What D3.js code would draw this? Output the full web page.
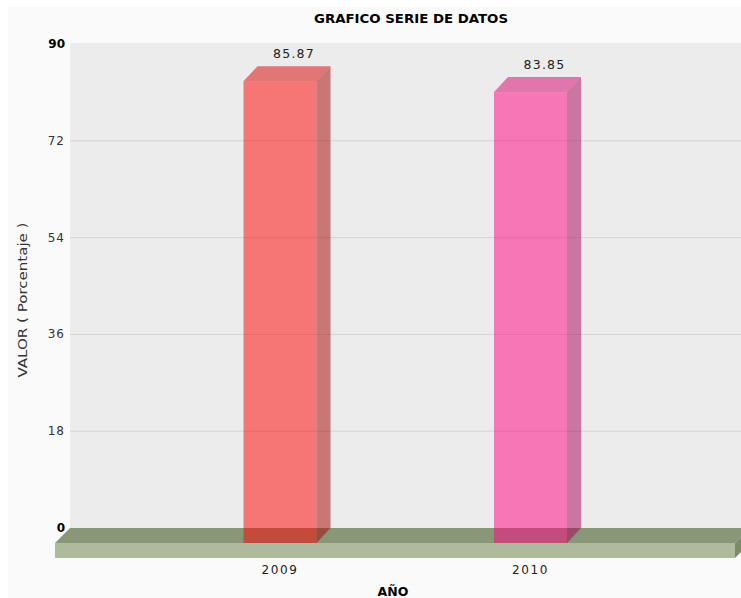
<!DOCTYPE html>
<html>
<head>
<meta charset="utf-8">
<script src="https://cdn.jsdelivr.net/npm/d3@7"></script>
<style>
  html, body { margin: 0; padding: 0; background: #ffffff; }
  svg { display: block; }
  text { font-family: "DejaVu Sans", Verdana, sans-serif; }
</style>
</head>
<body>
<script>
const categories = ["2009", "2010"];
const values = [85.87, 83.85];
const barColors = ["#ff0000", "#ff0080"];
const yTicks = [0, 18, 36, 54, 72, 90];
const titleText = "GRAFICO SERIE DE DATOS";
const xTitle = "AÑO";
const yTitle = "VALOR ( Porcentaje )";

const W = 741, H = 598;
const svg = d3.select("body").append("svg").attr("width", W).attr("height", H);

// outer panel
svg.append("rect").attr("x", 8).attr("y", 7).attr("width", W - 8).attr("height", H - 7).attr("fill", "#fafafa");

const plotLeft = 70, plotRight = 760, plotTop = 43;
const y = d3.scaleLinear().domain([0, 90]).range([528, 44]);
const x = d3.scalePoint().domain(categories).range([280, 530.5]);
const dx = 14, dy = 15;   // 3D depth offset (front plane relative to back plane)
const fdx = 15;           // floor depth
const barW = 73;

// back wall
svg.append("rect").attr("x", plotLeft).attr("y", plotTop)
  .attr("width", plotRight - plotLeft).attr("height", y(0) - plotTop).attr("fill", "#ececec");

// grid
svg.append("g").selectAll("line").data(yTicks.filter(t => t > 0 && t < 90)).join("line")
  .attr("x1", plotLeft).attr("x2", plotRight)
  .attr("y1", d => y(d)).attr("y2", d => y(d))
  .attr("stroke", "#d4d4d4").attr("stroke-width", 1);

// y tick labels
svg.append("g").selectAll("text").data(yTicks).join("text")
  .attr("x", 65).attr("y", d => y(d) + 4)
  .attr("text-anchor", "end")
  .attr("font-size", d => (d === 0 || d === 90) ? 12 : 12)
  .attr("font-weight", d => (d === 0 || d === 90) ? "bold" : "normal")
  .attr("fill", d => (d === 0 || d === 90) ? "#000" : "#333")
  .attr("letter-spacing", d => (d === 0 || d === 90) ? 0 : 1)
  .text(d => d);

// floor
const fl = 55, fr = 735, fTop = y(0) + dy, fBot = fTop + 15;
const floor = svg.append("g");
floor.append("path")
  .attr("d", `M${fl},${fTop} L${fl + fdx},${y(0)} L${fr + fdx},${y(0)} L${fr},${fTop} Z`)
  .attr("fill", "#889778");
floor.append("rect").attr("x", fl).attr("y", fTop).attr("width", fr - fl).attr("height", fBot - fTop)
  .attr("fill", "#adbb9b");
floor.append("path")
  .attr("d", `M${fr},${fTop} L${fr + fdx},${y(0)} L${fr + fdx},${y(0) + 15} L${fr},${fBot} Z`)
  .attr("fill", "#7b8a6b");

// bars
const data = categories.map((c, i) => ({ c, v: values[i], col: barColors[i] }));
const bars = svg.append("g").selectAll("g").data(data).join("g");
bars.each(function (d) {
  const g = d3.select(this);
  const x0 = x(d.c) - barW / 2, x1 = x(d.c) + barW / 2;
  const yTF = y(d.v) + dy, yBF = y(0) + dy;
  const yTB = y(d.v), yBB = y(0);
  const base = d3.rgb(d.col);
  const side = d3.rgb(base.r * 0.65, base.g * 0.65, base.b * 0.65);
  const top = d3.rgb(base.r * 0.83, base.g * 0.83, base.b * 0.83);
  g.append("path")
    .attr("d", `M${x1},${yTF} L${x1 + dx},${yTB} L${x1 + dx},${yBB} L${x1},${yBF} Z`)
    .attr("fill", side).attr("fill-opacity", 0.5);
  g.append("path")
    .attr("d", `M${x0},${yTF} L${x0 + dx},${yTB} L${x1 + dx},${yTB} L${x1},${yTF} Z`)
    .attr("fill", top).attr("fill-opacity", 0.5);
  g.append("rect").attr("x", x0).attr("y", yTF).attr("width", barW).attr("height", yBF - yTF)
    .attr("fill", base).attr("fill-opacity", 0.5);
  g.append("text")
    .attr("x", x(d.c) + dx).attr("y", yTB - 8.5)
    .attr("text-anchor", "middle").attr("font-size", 12.5).attr("letter-spacing", 1.2)
    .attr("fill", "#222").text(d3.format(".2f")(d.v));
});

// x labels
svg.append("g").selectAll("text").data(categories).join("text")
  .attr("x", d => x(d)).attr("y", 574)
  .attr("text-anchor", "middle").attr("font-size", 12).attr("letter-spacing", 1.6)
  .attr("fill", "#222").text(d => d);

// titles
svg.append("text").attr("x", 411).attr("y", 23).attr("text-anchor", "middle")
  .attr("font-size", 12.5).attr("font-weight", "bold").attr("fill", "#000")
  .attr("textLength", 194).attr("lengthAdjust", "spacingAndGlyphs")
  .text(titleText);
svg.append("text").attr("x", 393).attr("y", 596).attr("text-anchor", "middle")
  .attr("font-size", 12.5).attr("font-weight", "bold").attr("fill", "#000")
  .text(xTitle);
svg.append("text").attr("transform", "translate(27,300) rotate(-90)")
  .attr("text-anchor", "middle").attr("font-size", 12).attr("fill", "#333")
  .attr("textLength", 155).attr("lengthAdjust", "spacingAndGlyphs")
  .text(yTitle);
</script>
</body>
</html>
